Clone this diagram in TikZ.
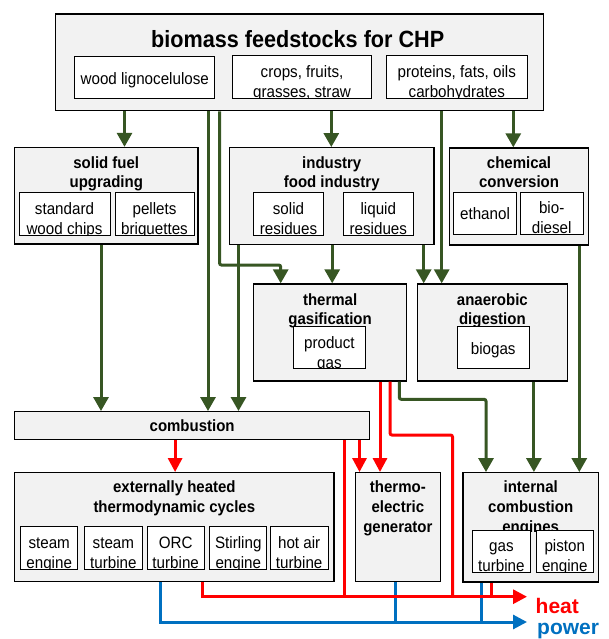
\documentclass[tikz,border=0pt]{standalone}
\usepackage{fontspec}
\setmainfont{Liberation Sans}[FakeStretch=0.92]
\newfontfamily\labelfont{Liberation Sans}
\usetikzlibrary{arrows.meta}
\definecolor{boxgray}{RGB}{242,242,242}
\definecolor{flowgreen}{RGB}{55,86,35}
\definecolor{heatred}{RGB}{255,0,0}
\definecolor{powerblue}{RGB}{0,112,192}
\begin{document}
\begin{tikzpicture}[x=1pt,y=-1pt,
    blok/.style={draw, line width=1.3pt, fill=boxgray, inner sep=0pt},
    ttl/.style={anchor=north, align=center, inner sep=0pt, font=\bfseries\fontsize{16.3}{19}\selectfont},
    leaftext/.style={anchor=north, align=center, inner sep=0pt, minimum width=0pt, minimum height=0pt,
      font=\fontsize{16.5}{20}\selectfont},
    leaf/.style={draw, line width=1pt, fill=white, inner sep=0pt,
      path picture={\node[leaftext] at ([yshift=-7pt]path picture bounding box.north) {\strut #1};}},
    leafmid/.style={draw, line width=1pt, fill=white, inner sep=0pt,
      path picture={\node[leaftext] at ([yshift=-13pt]path picture bounding box.north) {\strut #1};}},
    garr/.style={draw=flowgreen, line width=3pt, -{Triangle[width=15pt,length=14pt]}},
    rarr/.style={draw=heatred, line width=3pt, -{Triangle[width=14pt,length=14pt]}},
    rln/.style={draw=heatred, line width=3pt},
    barr/.style={draw=powerblue, line width=3pt, -{Triangle[width=14pt,length=14pt]}},
    bln/.style={draw=powerblue, line width=3pt}]
    \useasboundingbox (0,0) rectangle (609,639);

    % 原料
    \node[blok, minimum width=488pt, minimum height=96.7pt] (top) at (299.3,62.35) {};
    \node[anchor=base, inner sep=0pt, font=\bfseries\fontsize{23.5}{27}\selectfont] (toptitle) at ([xshift=-1.6pt,yshift=-34.3pt]top.north) {biomass feedstocks for CHP};
    \node[leafmid={wood lignocelulose}, minimum width=140.1pt, minimum height=42pt] (wood) at (144.75,77.7) {};
    \node[leaf={crops, fruits,\\grasses, straw}, minimum width=139.4pt, minimum height=43pt] (crops) at (302,77.5) {};
    \node[leaf={proteins, fats, oils\\carbohydrates}, minimum width=140.8pt, minimum height=43pt] (proteins) at (456.8,77.5) {};

    % 预处理
    \node[blok, minimum width=183.5pt, minimum height=96.5pt] (solid) at (106.25,195.75) {};
    \node[ttl] (solidtitle) at ([yshift=-7.7pt]solid.north) {\strut solid fuel\\upgrading};
    \node[leaf={standard\\wood chips}, minimum width=91pt, minimum height=42.8pt] (chips) at (64.5,214.1) {};
    \node[leaf={pellets\\briquettes}, minimum width=79pt, minimum height=42.8pt] (pellets) at (154.5,214.1) {};

    \node[blok, minimum width=204.5pt, minimum height=96.6pt] (indus) at (331.75,196) {};
    \node[ttl] (industitle) at ([yshift=-7.7pt]indus.north) {\strut industry\\food industry};
    \node[leaf={solid\\residues}, minimum width=70.4pt, minimum height=42.8pt] (solres) at (288.5,214.1) {};
    \node[leaf={liquid\\residues}, minimum width=70pt, minimum height=42.8pt] (liqres) at (378.3,214.1) {};

    \node[blok, minimum width=139.4pt, minimum height=97pt] (chem) at (519,196.5) {};
    \node[ttl] (chemtitle) at ([yshift=-7.7pt]chem.north) {\strut chemical\\conversion};
    \node[leafmid={ethanol}, minimum width=63.4pt, minimum height=42pt] (ethanol) at (485,213.4) {};
    \node[leaf={bio-\\diesel}, minimum width=63.3pt, minimum height=42pt] (biodiesel) at (551.65,213.4) {};

    % 转化
    \node[blok, minimum width=152.8pt, minimum height=97pt] (gasif) at (330.1,332.5) {};
    \node[ttl] (gasiftitle) at ([yshift=-8.5pt]gasif.north) {\strut thermal\\gasification};
    \node[leaf={product\\gas}, minimum width=72.8pt, minimum height=41.6pt] (prodgas) at (329.4,347.5) {};

    \node[blok, minimum width=150pt, minimum height=97pt] (anaer) at (492.35,332.5) {};
    \node[ttl] (anaertitle) at ([yshift=-8.5pt]anaer.north) {\strut anaerobic\\digestion};
    \node[leafmid={biogas}, minimum width=72pt, minimum height=41.6pt] (biogas) at (493.2,347.5) {};

    \node[blok, minimum width=354.7pt, minimum height=27.5pt, font=\bfseries\fontsize{16.3}{19}\selectfont] (comb) at (192.15,425.45) {combustion};

    % 发电设备
    \node[blok, minimum width=319.1pt, minimum height=109pt] (ext) at (174.35,527.2) {};
    \node[ttl] (exttitle) at ([yshift=-6.7pt]ext.north) {\strut externally heated\\[1pt]thermodynamic cycles};
    \node[leaf={steam\\engine}, minimum width=57.2pt, minimum height=42.3pt] (steameng) at (49.2,547.85) {};
    \node[leaf={steam\\turbine}, minimum width=57.2pt, minimum height=42.3pt] (steamtur) at (113.4,547.85) {};
    \node[leaf={ORC\\turbine}, minimum width=57.2pt, minimum height=42.3pt] (orc) at (175.7,547.85) {};
    \node[leaf={Stirling\\engine}, minimum width=57.2pt, minimum height=42.3pt] (stirling) at (238.3,547.85) {};
    \node[leaf={hot air\\turbine}, minimum width=57.6pt, minimum height=42.3pt] (hotair) at (299.2,547.85) {};

    \node[blok, minimum width=85.4pt, minimum height=109pt] (teg) at (397.9,527.2) {};
    \node[ttl] (tegtitle) at ([yshift=-7pt]teg.north) {\strut thermo-\\[1pt]electric\\[1pt]generator};

    \node[blok, minimum width=135.4pt, minimum height=109.3pt] (ice) at (530.7,527.35) {};
    \node[ttl] (icetitle) at ([yshift=-7pt]ice.north) {\strut internal\\[1pt]combustion\\[1pt]engines};
    \node[leaf={gas\\turbine}, minimum width=57.2pt, minimum height=42.3pt] (gasturb) at (501.4,551.15) {};
    \node[leaf={piston\\engine}, minimum width=57.2pt, minimum height=42.3pt] (piston) at (564.8,551.15) {};

    % 连线的位置
    \coordinate (xsolid) at (124.5,0);
    \coordinate (xindus) at (331.3,0);
    \coordinate (xchem) at (513.3,0);
    \coordinate (xwoodcomb) at (208,0);
    \coordinate (xwoodgas) at (219.5,0);
    \coordinate (xgasin) at (280.7,0);
    \coordinate (xoil) at (441.7,0);
    \coordinate (xsolidcomb) at (101,0);
    \coordinate (xinduscomb) at (238.5,0);
    \coordinate (xindusgas) at (332.2,0);
    \coordinate (xindusdig) at (423.7,0);
    \coordinate (xchemice) at (579.3,0);
    \coordinate (xdigice) at (533.9,0);
    \coordinate (xgasout) at (399.3,0);
    \coordinate (xgasice) at (486,0);
    \coordinate (ywoodgas) at (0,265);
    \coordinate (ygasice) at (0,399.3);
    \coordinate (ygasheat) at (0,435);
    \coordinate (xcombext) at (175.1,0);
    \coordinate (xcombheat) at (344,0);
    \coordinate (xcombteg) at (359.5,0);
    \coordinate (xgasteg) at (380,0);
    \coordinate (xgasheat) at (390,0);
    \coordinate (xgasheatdown) at (452.5,0);
    \coordinate (xextheat) at (202.3,0);
    \coordinate (xiceheat) at (491.5,0);
    \coordinate (xextpower) at (160.3,0);
    \coordinate (xtegpower) at (395.5,0);
    \coordinate (xicepower) at (481,0);
    \coordinate (heatend) at (527,596.7);
    \coordinate (powerend) at (527,622);

    % 电
    \draw[barr] (ext.south -| xextpower) |- (powerend);
    \draw[bln] (teg.south -| xtegpower) -- (powerend -| xtegpower);
    \draw[bln] (ice.south -| xicepower) -- (powerend -| xicepower);
    \node[anchor=base west, inner sep=0pt, text=powerblue, font=\labelfont\bfseries\fontsize{21}{25}\selectfont] (power) at ([xshift=10pt,yshift=-12pt]powerend) {power};

    % 热
    \draw[rarr] (comb.south -| xcombext) -- (ext.north -| xcombext);
    \draw[rarr] (comb.south -| xcombteg) -- (teg.north -| xcombteg);
    \draw[rarr] (gasif.south -| xgasteg) -- (teg.north -| xgasteg);
    \draw[rln] (comb.south -| xcombheat) -- (heatend -| xcombheat);
    \draw[rln, rounded corners=2pt] (gasif.south -| xgasheat) -- (ygasheat -| xgasheat) -| (heatend -| xgasheatdown);
    \draw[rln] (ice.south -| xiceheat) -- (heatend -| xiceheat);
    \draw[rarr] (ext.south -| xextheat) |- (heatend);
    \node[anchor=base west, inner sep=0pt, text=heatred, font=\labelfont\bfseries\fontsize{21}{25}\selectfont] (heat) at ([xshift=8.5pt,yshift=-16.3pt]heatend) {heat};

    % 物料流
    \draw[garr] (top.south -| xsolid) -- (solid.north -| xsolid);
    \draw[garr] (top.south -| xindus) -- (indus.north -| xindus);
    \draw[garr] (top.south -| xchem) -- (chem.north -| xchem);
    \draw[garr] (top.south -| xwoodcomb) -- (comb.north -| xwoodcomb);
    \draw[garr, rounded corners=2pt] (top.south -| xwoodgas) -- (ywoodgas -| xwoodgas) -| (gasif.north -| xgasin);
    \draw[garr] (top.south -| xoil) -- (anaer.north -| xoil);
    \draw[garr] (solid.south -| xsolidcomb) -- (comb.north -| xsolidcomb);
    \draw[garr] (indus.south -| xinduscomb) -- (comb.north -| xinduscomb);
    \draw[garr] (indus.south -| xindusgas) -- (gasif.north -| xindusgas);
    \draw[garr] (indus.south -| xindusdig) -- (anaer.north -| xindusdig);
    \draw[garr] (chem.south -| xchemice) -- (ice.north -| xchemice);
    \draw[garr] (anaer.south -| xdigice) -- (ice.north -| xdigice);
    \draw[garr, rounded corners=2pt] (gasif.south -| xgasout) -- (ygasice -| xgasout) -| (ice.north -| xgasice);
\end{tikzpicture}
\end{document}
